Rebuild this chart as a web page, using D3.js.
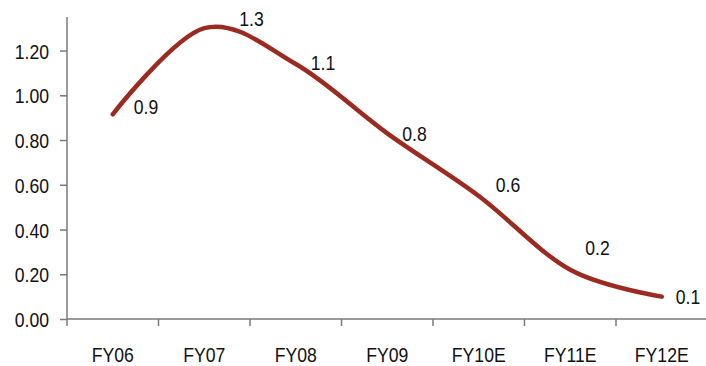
<!DOCTYPE html>
<html>
<head>
<meta charset="utf-8">
<script src="https://cdn.jsdelivr.net/npm/d3@7/dist/d3.min.js"></script>
<style>
  html, body { margin: 0; padding: 0; background: #fff; }
  svg { display: block; }
  text { font-family: "Liberation Sans", Arial, sans-serif; font-size: 21px; fill: #111; }
</style>
</head>
<body>
<svg id="chart" width="706" height="366"></svg>
<script>
// Fiscal years and the plotted series
const categories = ["FY06", "FY07", "FY08", "FY09", "FY10E", "FY11E", "FY12E"];
const values = [0.915, 1.30, 1.14, 0.83, 0.55, 0.22, 0.10];
const yTicks = [0, 0.2, 0.4, 0.6, 0.8, 1.0, 1.2];

// Label nudges (px) from each point: [dx to label's left edge, dy to label's vertical centre]
const labelNudge = [[22, -8], [36, -10], [16, -1], [16, 0], [18, -11], [16, -22], [15, 0]];

const svg = d3.select("#chart");
const plotLeft = 67, plotRight = 707.5, plotTop = 17, plotBottom = 319;
const narrow = 0.84;   // horizontal squeeze giving a condensed face
const capHalf = 7.5;   // half the cap height at 21px

const x = d3.scaleBand().domain(categories).range([plotLeft, plotRight]);
const y = d3.scaleLinear().domain([0, 1.35]).range([plotBottom, plotTop]);
const fmtTick = d3.format(".2f");
const fmtLabel = d3.format(".1f");
const axisColor = "#7a7a7a";

// Place a text element at (tx, ty) and condense it horizontally around its anchor
function placeNarrow(sel, tx, ty) {
  sel.attr("x", 0).attr("y", 0).attr("dy", null)
     .attr("transform", (d, i) => `translate(${tx(d, i)},${ty(d, i)}) scale(${narrow},1)`);
}

// Y axis
const yAxis = svg.append("g")
  .attr("transform", `translate(${plotLeft},0)`)
  .attr("font-size", null).attr("font-family", null)
  .call(d3.axisLeft(y).tickValues(yTicks).tickFormat(fmtTick).tickSize(7).tickPadding(11));
yAxis.attr("font-size", null).attr("font-family", null);
yAxis.select(".domain").attr("stroke", axisColor).attr("stroke-width", 1.5).attr("d", `M0,${plotBottom}V${plotTop}`);
yAxis.selectAll(".tick line").attr("stroke", axisColor).attr("stroke-width", 1.5);
yAxis.selectAll(".tick text").attr("fill", "#111").attr("text-anchor", "end")
  .call(placeNarrow, () => -18, () => capHalf);

// X axis with ticks on category boundaries
const xAxis = svg.append("g").attr("transform", `translate(0,${plotBottom})`);
xAxis.append("line").attr("x1", plotLeft).attr("x2", plotRight).attr("stroke", axisColor).attr("stroke-width", 1.5);
const bounds = categories.map(c => x(c));
xAxis.selectAll("line.tk").data(bounds).join("line").attr("class", "tk")
  .attr("x1", d => d).attr("x2", d => d).attr("y1", 0).attr("y2", 7)
  .attr("stroke", axisColor).attr("stroke-width", 1.5);
xAxis.selectAll("text").data(categories).join("text")
  .attr("text-anchor", "middle")
  .text(d => d)
  .call(placeNarrow, d => x(d) + x.bandwidth() / 2, () => 43);

// Smoothed line
const pts = values.map((v, i) => [x(categories[i]) + x.bandwidth() / 2, y(v)]);
const line = d3.line().curve(d3.curveCardinal.tension(0));
svg.append("path")
  .attr("d", line(pts))
  .attr("fill", "none")
  .attr("stroke", "#9b2a20")
  .attr("stroke-width", 4.5)
  .attr("stroke-linecap", "round")
  .attr("stroke-linejoin", "round");

// Data labels
svg.selectAll("text.lbl").data(values).join("text")
  .attr("class", "lbl")
  .text(v => fmtLabel(v))
  .call(placeNarrow, (v, i) => pts[i][0] + labelNudge[i][0] - 1, (v, i) => pts[i][1] + labelNudge[i][1] + capHalf);
</script>
</body>
</html>
